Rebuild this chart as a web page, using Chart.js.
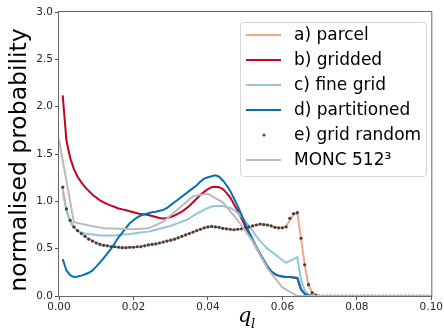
<!DOCTYPE html>
<html>
<head>
<meta charset="utf-8">
<script src="https://cdn.jsdelivr.net/npm/chart.js@4.4.1/dist/chart.umd.min.js"></script>
<style>
  html, body { margin: 0; padding: 0; background: #fff; }
  #wrap { width: 444px; height: 333px; }
</style>
</head>
<body>
<div id="wrap"><canvas id="pdfChart" width="444" height="333"></canvas></div>
<script>
// liquid water bins (centres)
const qBins = [
  0.001, 0.002, 0.003, 0.004, 0.005, 0.006, 0.007, 0.008, 0.009, 0.010,
  0.011, 0.012, 0.013, 0.014, 0.015, 0.016, 0.017, 0.018, 0.019, 0.020,
  0.021, 0.022, 0.023, 0.024, 0.025, 0.026, 0.027, 0.028, 0.029, 0.030,
  0.031, 0.032, 0.033, 0.034, 0.035, 0.036, 0.037, 0.038, 0.039, 0.040,
  0.041, 0.042, 0.043, 0.044, 0.045, 0.046, 0.047, 0.048, 0.049, 0.050,
  0.051, 0.052, 0.053, 0.054, 0.055, 0.056, 0.057, 0.058, 0.059, 0.060,
  0.061, 0.062, 0.063, 0.064, 0.065, 0.066, 0.067, 0.068, 0.069, 0.070,
  0.071, 0.072, 0.073, 0.074, 0.075, 0.076, 0.077, 0.078, 0.079, 0.080,
  0.081, 0.082, 0.083, 0.084, 0.085, 0.086, 0.087, 0.088, 0.089, 0.090,
  0.091, 0.092, 0.093, 0.094, 0.095, 0.096, 0.097, 0.098, 0.099, 0.100
];

const parcel = [
  1.14, 0.91, 0.80, 0.73, 0.69, 0.66, 0.63, 0.605, 0.585, 0.565,
  0.55, 0.54, 0.53, 0.525, 0.52, 0.515, 0.51, 0.51, 0.515, 0.515,
  0.52, 0.525, 0.53, 0.54, 0.545, 0.55, 0.56, 0.57, 0.58, 0.59,
  0.60, 0.615, 0.63, 0.645, 0.66, 0.675, 0.69, 0.705, 0.72, 0.73,
  0.735, 0.73, 0.725, 0.715, 0.71, 0.705, 0.70, 0.705, 0.71, 0.72,
  0.73, 0.74, 0.75, 0.76, 0.755, 0.75, 0.74, 0.725, 0.72, 0.72,
  0.735, 0.80, 0.86, 0.88, 0.61, 0.33, 0.12, 0.035, 0.01, 0,
  0, 0, 0, 0, 0, 0, 0, 0, 0, 0,
  0, 0, 0, 0, 0, 0, 0, 0, 0, 0,
  0, 0, 0, 0, 0, 0, 0, 0, 0, 0
];

const gridded = [
  2.12, 1.64, 1.46, 1.34, 1.26, 1.20, 1.15, 1.11, 1.07, 1.04,
  1.01, 0.99, 0.97, 0.955, 0.94, 0.925, 0.915, 0.905, 0.895, 0.885,
  0.875, 0.865, 0.86, 0.855, 0.845, 0.835, 0.825, 0.82, 0.825, 0.835,
  0.85, 0.87, 0.89, 0.92, 0.95, 0.99, 1.03, 1.07, 1.10, 1.13,
  1.15, 1.155, 1.15, 1.13, 1.09, 1.04, 0.97, 0.90, 0.82, 0.74,
  0.66, 0.58, 0.51, 0.44, 0.37, 0.31, 0.26, 0.23, 0.215, 0.205,
  0.20, 0.20, 0.195, 0.19, 0.07, 0.025, 0.008, 0.002, 0, 0,
  0, 0, 0, 0, 0, 0, 0, 0, 0, 0,
  0, 0, 0, 0, 0, 0, 0, 0, 0, 0,
  0, 0, 0, 0, 0, 0, 0, 0, 0, 0
];

const fineGrid = [
  1.10, 0.90, 0.78, 0.72, 0.69, 0.67, 0.66, 0.655, 0.65, 0.645,
  0.64, 0.64, 0.64, 0.64, 0.64, 0.645, 0.65, 0.652, 0.655, 0.66,
  0.665, 0.67, 0.675, 0.68, 0.69, 0.70, 0.71, 0.72, 0.73, 0.74,
  0.755, 0.77, 0.785, 0.80, 0.82, 0.845, 0.87, 0.89, 0.91, 0.93,
  0.945, 0.95, 0.95, 0.95, 0.94, 0.93, 0.91, 0.88, 0.84, 0.79,
  0.74, 0.69, 0.63, 0.58, 0.54, 0.50, 0.47, 0.44, 0.41, 0.38,
  0.35, 0.37, 0.39, 0.41, 0.17, 0.06, 0.015, 0, 0, 0,
  0, 0, 0, 0, 0, 0, 0, 0, 0, 0,
  0, 0, 0, 0, 0, 0, 0, 0, 0, 0,
  0, 0, 0, 0, 0, 0, 0, 0, 0, 0
];

const partitioned = [
  0.39, 0.27, 0.22, 0.20, 0.205, 0.215, 0.23, 0.245, 0.27, 0.31,
  0.355, 0.40, 0.45, 0.50, 0.56, 0.62, 0.67, 0.72, 0.77, 0.80,
  0.83, 0.85, 0.865, 0.875, 0.885, 0.89, 0.90, 0.91, 0.93, 0.96,
  0.99, 1.02, 1.05, 1.08, 1.11, 1.14, 1.17, 1.21, 1.24, 1.255,
  1.265, 1.275, 1.26, 1.22, 1.17, 1.11, 1.03, 0.95, 0.86, 0.77,
  0.68, 0.60, 0.52, 0.45, 0.38, 0.31, 0.26, 0.23, 0.215, 0.205,
  0.20, 0.20, 0.195, 0.19, 0.07, 0.025, 0.008, 0.002, 0, 0,
  0, 0, 0, 0, 0, 0, 0, 0, 0, 0,
  0, 0, 0, 0, 0, 0, 0, 0, 0, 0,
  0, 0, 0, 0, 0, 0, 0, 0, 0, 0
];

const gridRandom = [
  1.15, 0.92, 0.80, 0.73, 0.69, 0.66, 0.63, 0.60, 0.58, 0.56,
  0.545, 0.535, 0.53, 0.52, 0.52, 0.515, 0.51, 0.51, 0.515, 0.515,
  0.52, 0.52, 0.53, 0.54, 0.545, 0.55, 0.56, 0.57, 0.58, 0.59,
  0.60, 0.615, 0.63, 0.645, 0.66, 0.675, 0.69, 0.705, 0.72, 0.73,
  0.735, 0.73, 0.725, 0.715, 0.71, 0.705, 0.70, 0.705, 0.71, 0.72,
  0.73, 0.74, 0.75, 0.76, 0.755, 0.75, 0.74, 0.725, 0.72, 0.72,
  0.73, 0.82, 0.87, 0.88, 0.61, 0.33, 0.12, 0.035, 0.01, 0,
  0, 0, 0, 0, 0, 0, 0, 0, 0, 0,
  0, 0, 0, 0, 0, 0, 0, 0, 0, 0,
  0, 0, 0, 0, 0, 0, 0, 0, 0, 0
];

// LES reference uses coarser bins
const moncBins = [
  0.000, 0.004, 0.008, 0.012, 0.016, 0.020, 0.024, 0.028, 0.032, 0.036,
  0.040, 0.044, 0.048, 0.052, 0.056, 0.060, 0.064, 0.068, 0.072, 0.076,
  0.080, 0.084, 0.088, 0.092, 0.096, 0.100
];
const monc = [
  1.65, 0.78, 0.745, 0.715, 0.71, 0.705, 0.715, 0.785, 0.92, 1.055,
  1.08, 0.99, 0.80, 0.58, 0.29, 0.09, 0, 0, 0, 0,
  0, 0, 0, 0, 0, 0
];

const xTicks = [0, 0.02, 0.04, 0.06, 0.08, 0.10];
const yTicks = [0, 0.5, 1.0, 1.5, 2.0, 2.5, 3.0];
const seriesNames = ["a) parcel", "b) gridded", "c) fine grid", "d) partitioned", "e) grid random", "MONC 512\u00B3"];
const seriesColors = ["#f4a582", "#ca0020", "#92c5de", "#0571b0", "#404040", "#bababa"];

const pts = (xs, ys) => xs.map((x, i) => ({ x: x, y: ys[i] }));

function lineSet(i, xs, ys, order) {
  return {
    label: seriesNames[i],
    data: pts(xs, ys),
    borderColor: seriesColors[i],
    backgroundColor: seriesColors[i],
    borderWidth: 2,
    pointRadius: 0,
    tension: 0,
    order: order
  };
}

// frame, legend and axis labels drawn straight on the canvas
const decorations = {
  id: "decorations",
  afterDraw(chart) {
    const ctx = chart.ctx;
    const a = chart.chartArea;
    ctx.save();

    ctx.strokeStyle = "#666";
    ctx.lineWidth = 1;
    ctx.strokeRect(a.left - 0.5, a.top - 0.5, a.right - a.left + 1, a.bottom - a.top + 1);

    // legend box
    const bx = 240.5, by = 22.5, bw = 186, bh = 154, r = 3;
    ctx.beginPath();
    ctx.moveTo(bx + r, by);
    ctx.arcTo(bx + bw, by, bx + bw, by + bh, r);
    ctx.arcTo(bx + bw, by + bh, bx, by + bh, r);
    ctx.arcTo(bx, by + bh, bx, by, r);
    ctx.arcTo(bx, by, bx + bw, by, r);
    ctx.closePath();
    ctx.fillStyle = "rgba(255,255,255,0.8)";
    ctx.fill();
    ctx.strokeStyle = "#d6d6d6";
    ctx.stroke();

    ctx.font = '17px "DejaVu Sans"';
    ctx.textBaseline = "middle";
    ctx.textAlign = "left";
    seriesNames.forEach((name, i) => {
      const y = 35 + i * 25;
      if (i === 4) {
        ctx.fillStyle = seriesColors[i];
        ctx.beginPath();
        ctx.arc(264, y, 1.5, 0, Math.PI * 2);
        ctx.fill();
      } else {
        ctx.strokeStyle = seriesColors[i];
        ctx.lineWidth = 2;
        ctx.beginPath();
        ctx.moveTo(246, y);
        ctx.lineTo(281, y);
        ctx.stroke();
      }
      ctx.fillStyle = "#000";
      ctx.fillText(name, 294, y + 1);
    });

    // y label
    ctx.save();
    ctx.translate(20, 160);
    ctx.rotate(-Math.PI / 2);
    ctx.textAlign = "center";
    ctx.textBaseline = "middle";
    ctx.font = '23.5px "DejaVu Sans"';
    ctx.fillStyle = "#000";
    ctx.fillText("normalised probability", 0, 0);
    ctx.restore();

    // x label q_l
    ctx.textBaseline = "alphabetic";
    ctx.fillStyle = "#000";
    ctx.font = 'italic 21px "DejaVu Serif"';
    ctx.fillText("q", 238, 322);
    ctx.font = 'italic 13px "DejaVu Serif"';
    ctx.fillText("l", 251, 328);

    ctx.restore();
  }
};

new Chart(document.getElementById("pdfChart"), {
  type: "line",
  data: {
    datasets: [
      lineSet(0, qBins, parcel, 6),
      lineSet(1, qBins, gridded, 5),
      lineSet(2, qBins, fineGrid, 4),
      lineSet(3, qBins, partitioned, 3),
      {
        label: seriesNames[4],
        data: pts(qBins, gridRandom),
        showLine: false,
        pointRadius: 1.6,
        pointBorderWidth: 0,
        pointBackgroundColor: seriesColors[4],
        pointBorderColor: seriesColors[4],
        clip: 0,
        order: 2
      },
      lineSet(5, moncBins, monc, 1)
    ]
  },
  options: {
    responsive: false,
    animation: false,
    devicePixelRatio: 1,
    layout: { padding: { left: 0, top: 12, right: 10, bottom: 0 } },
    plugins: { legend: { display: false }, tooltip: { enabled: false } },
    scales: {
      x: {
        type: "linear",
        min: 0,
        max: 0.1,
        afterFit: s => { s.height = 37; },
        afterBuildTicks: s => { s.ticks = xTicks.map(v => ({ value: v })); },
        ticks: {
          callback: v => v.toFixed(2),
          font: { family: "DejaVu Sans", size: 10.5 },
          color: "#262626",
          padding: 1,
          maxRotation: 0
        },
        grid: { drawOnChartArea: false, drawTicks: true, tickLength: 4, tickColor: "#555" },
        border: { display: false }
      },
      y: {
        min: 0,
        max: 3,
        afterFit: s => { s.width = 59; },
        afterBuildTicks: s => { s.ticks = yTicks.map(v => ({ value: v })); },
        ticks: {
          callback: v => v.toFixed(1),
          font: { family: "DejaVu Sans", size: 10.5 },
          color: "#262626",
          padding: 2
        },
        grid: { drawOnChartArea: false, drawTicks: true, tickLength: 4, tickColor: "#555" },
        border: { display: false }
      }
    }
  },
  plugins: [decorations]
});
</script>
</body>
</html>
